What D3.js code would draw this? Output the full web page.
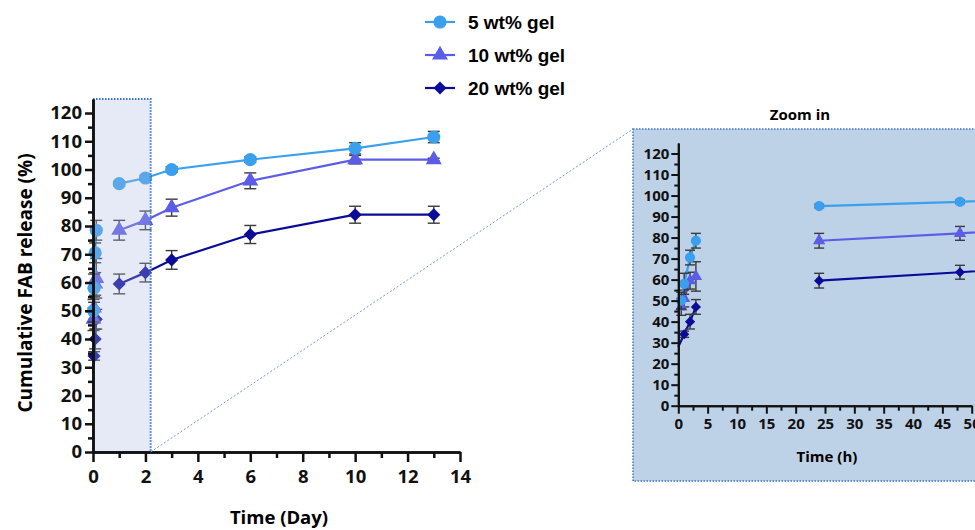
<!DOCTYPE html>
<html>
<head>
<meta charset="utf-8">
<script src="https://cdn.jsdelivr.net/npm/d3@7"></script>
<style>
  body { margin: 0; background: #fff; }
  svg { display: block; }
</style>
</head>
<body>
<div id="chart"></div>
<script>
// sampling times in hours (converted to days for the main plot)
const hours = [0.5, 1, 2, 3, 24, 48, 72, 144, 240, 312];
const hours20 = [0, 1, 2, 3, 24, 48, 72, 144, 240, 312];
// the first-day samples and the daily samples are plotted as two separate runs
const segment = [0, 0, 0, 0, 1, 1, 1, 1, 1, 1];

const seriesNames = ['5 wt% gel', '10 wt% gel', '20 wt% gel'];
const gel5 = [50, 58, 70.5, 78.5, 95, 97, 100, 103.5, 107.5, 111.5];
const gel5Sd = [4, 5, 3.5, 3.5, 0.8, 0.8, 1, 1, 2, 2];
const gel10 = [47, 51, 59.5, 61.5, 78.5, 82, 86.5, 96, 103.5, 103.5];
const gel10Sd = [4, 4, 4, 7, 3.5, 3.3, 3, 2.8, 1.5, 0.5];
const gel20 = [28, 34, 40, 47, 59.5, 63.5, 68, 77, 84, 84];
const gel20Sd = [0, 1.5, 3.5, 3.5, 3.5, 3.3, 3.3, 3.2, 3, 3];

const yTicks = [0, 10, 20, 30, 40, 50, 60, 70, 80, 90, 100, 110, 120];
const dayTicks = [0, 2, 4, 6, 8, 10, 12, 14];
const hourTicks = [0, 5, 10, 15, 20, 25, 30, 35, 40, 45, 50];

const colors = ['#3aa0ee', '#5c5ce6', '#0b0b98'];
const shapes = ['circle', 'triangle', 'diamond'];

const series = [
  { name: seriesNames[0], t: hours, v: gel5, sd: gel5Sd },
  { name: seriesNames[1], t: hours, v: gel10, sd: gel10Sd },
  { name: seriesNames[2], t: hours20, v: gel20, sd: gel20Sd }
].map((s, i) => ({
  ...s, color: colors[i], shape: shapes[i],
  pts: s.t.map((t, j) => ({ h: t, d: t / 24, v: s.v[j], sd: s.sd[j], seg: segment[j] }))
}));

const svg = d3.select('#chart').append('svg')
  .attr('width', 975).attr('height', 530);

const boldFont = "'Open Sans', sans-serif";

function marker(shape, scale) {
  if (shape === 'circle') return d3.symbol(d3.symbolCircle, 135 * scale)();
  if (shape === 'triangle') return d3.symbol(d3.symbolTriangle, 110 * scale)();
  return d3.symbol(d3.symbolSquare, 86 * scale)();
}

function drawSeries(g, xs, ys, key, sc, capW) {
  // draw the darkest series first so the light one sits on top
  series.slice().reverse().forEach(s => {
    const line = d3.line().x(d => xs(d[key])).y(d => ys(d.v));
    d3.groups(s.pts, d => d.seg).forEach(([, run]) => {
      g.append('path')
        .datum(run)
        .attr('d', line)
        .attr('fill', 'none')
        .attr('stroke', s.color)
        .attr('stroke-width', 2.2);
    });

    const eb = g.append('g').attr('stroke', '#3a3a3a').attr('stroke-width', 1.4);
    s.pts.filter(d => d.sd > 0).forEach(d => {
      const x = xs(d[key]);
      eb.append('line').attr('x1', x).attr('x2', x).attr('y1', ys(d.v - d.sd)).attr('y2', ys(d.v + d.sd));
      eb.append('line').attr('x1', x - capW).attr('x2', x + capW).attr('y1', ys(d.v - d.sd)).attr('y2', ys(d.v - d.sd));
      eb.append('line').attr('x1', x - capW).attr('x2', x + capW).attr('y1', ys(d.v + d.sd)).attr('y2', ys(d.v + d.sd));
    });

    g.selectAll(null)
      .data(s.pts.filter(d => d.h > 0))
      .join('path')
      .attr('d', marker(s.shape, sc))
      .attr('transform', d => 'translate(' + xs(d[key]) + ',' + ys(d.v) + ')' + (s.shape === 'diamond' ? ' rotate(45)' : ''))
      .attr('fill', s.color);
  });
}

function styleAxis(ax, fs, w) {
  ax.select('.domain').attr('stroke', '#111').attr('stroke-width', w);
  ax.selectAll('.tick line').attr('stroke', '#111').attr('stroke-width', w);
  ax.selectAll('text')
    .attr('fill', '#111')
    .style('font-family', boldFont)
    .style('font-weight', 700)
    .style('font-size', fs + 'px');
}

// ---------- main chart ----------
const x = d3.scaleLinear().domain([0, 14]).range([93, 460]);
const y = d3.scaleLinear().domain([0, 125]).range([452, 98.9]);

const main = svg.append('g');
drawSeries(main, x, y, 'd', 1, 6);

// shaded zoom region, drawn over the early points
const zoomEnd = 2.2;
main.append('rect')
  .attr('x', x(0)).attr('y', y(125))
  .attr('width', x(zoomEnd) - x(0)).attr('height', y(0) - y(125))
  .attr('fill', '#abb9e2').attr('fill-opacity', 0.3)
  .attr('stroke', '#3a74d6').attr('stroke-width', 2)
  .attr('stroke-dasharray', '1.5,1.5');

const yMinor = svg.append('g').attr('transform', 'translate(93,0)')
  .call(d3.axisLeft(y).tickValues(d3.range(5, 125, 10)).tickSize(5).tickSizeOuter(0).tickFormat(''));
styleAxis(yMinor, 18, 2.5);
const yAxis = svg.append('g').attr('transform', 'translate(93,0)')
  .call(d3.axisLeft(y).tickValues(yTicks).tickSize(8).tickSizeOuter(0).tickPadding(3));
styleAxis(yAxis, 18.5, 2.5);

const xMinor = svg.append('g').attr('transform', 'translate(0,452)')
  .call(d3.axisBottom(x).tickValues(d3.range(1, 14, 2)).tickSize(6).tickSizeOuter(0).tickFormat(''));
styleAxis(xMinor, 18, 2.5);
const xAxis = svg.append('g').attr('transform', 'translate(0,452)')
  .call(d3.axisBottom(x).tickValues(dayTicks).tickSize(10).tickSizeOuter(0).tickPadding(8));
styleAxis(xAxis, 18.5, 2.5);

svg.append('text')
  .attr('x', 279).attr('y', 524)
  .attr('text-anchor', 'middle')
  .style('font-family', boldFont).style('font-weight', 700).style('font-size', '18.5px')
  .text('Time (Day)');

svg.append('text')
  .attr('transform', 'translate(32,283) rotate(-90)')
  .attr('text-anchor', 'middle')
  .style('font-family', boldFont).style('font-weight', 700).style('font-size', '19px')
  .text('Cumulative FAB release (%)');

// ---------- legend ----------
const legend = svg.append('g');
series.forEach((s, i) => {
  const ly = 22 + i * 33;
  legend.append('line')
    .attr('x1', 425).attr('x2', 455).attr('y1', ly).attr('y2', ly)
    .attr('stroke', s.color).attr('stroke-width', 2.2);
  legend.append('path')
    .attr('d', marker(s.shape, 1))
    .attr('transform', 'translate(440,' + ly + ')' + (s.shape === 'diamond' ? ' rotate(45)' : ''))
    .attr('fill', s.color);
  legend.append('text')
    .attr('x', 468).attr('y', ly + 7)
    .style('font-family', "'Liberation Sans', Arial, sans-serif")
    .style('font-weight', 700).style('font-size', '19px')
    .text(s.name);
});

// ---------- inset ----------
const box = { x: 633, y: 129, w: 400, h: 352 };

svg.append('line')
  .attr('x1', x(zoomEnd)).attr('y1', y(0)).attr('x2', box.x).attr('y2', box.y)
  .attr('stroke', '#6f9be6').attr('stroke-width', 1)
  .attr('stroke-dasharray', '2,2');

svg.append('rect')
  .attr('x', box.x).attr('y', box.y).attr('width', box.w).attr('height', box.h)
  .attr('fill', '#bdd1e7')
  .attr('stroke', '#3a74d6').attr('stroke-width', 1.5)
  .attr('stroke-dasharray', '1.5,1.5');

svg.append('clipPath').attr('id', 'insetClip')
  .append('rect').attr('x', box.x).attr('y', box.y).attr('width', box.w).attr('height', box.h);

const ix = d3.scaleLinear().domain([0, 50]).range([678.3, 971.7]);
const iy = d3.scaleLinear().domain([0, 125]).range([405.7, 143]);

const inset = svg.append('g').attr('clip-path', 'url(#insetClip)');
drawSeries(inset, ix, iy, 'h', 0.6, 5);

const iyMinor = svg.append('g').attr('transform', 'translate(678.3,0)')
  .call(d3.axisLeft(iy).tickValues(d3.range(5, 125, 10)).tickSize(4).tickSizeOuter(0).tickFormat(''));
styleAxis(iyMinor, 15, 2);
const iyAxis = svg.append('g').attr('transform', 'translate(678.3,0)')
  .call(d3.axisLeft(iy).tickValues(yTicks).tickSize(7).tickSizeOuter(0).tickPadding(2));
styleAxis(iyAxis, 15, 2);

const ixMinor = svg.append('g').attr('transform', 'translate(0,405.7)')
  .call(d3.axisBottom(ix).tickValues(d3.range(2.5, 50, 5)).tickSize(5).tickSizeOuter(0).tickFormat(''));
styleAxis(ixMinor, 15, 2);
const ixAxis = svg.append('g').attr('transform', 'translate(0,405.7)')
  .call(d3.axisBottom(ix).tickValues(hourTicks).tickSize(8).tickSizeOuter(0).tickPadding(5));
styleAxis(ixAxis, 15, 2);

svg.append('text')
  .attr('x', 827).attr('y', 462)
  .attr('text-anchor', 'middle')
  .style('font-family', boldFont).style('font-weight', 700).style('font-size', '15px')
  .text('Time (h)');

svg.append('text')
  .attr('x', 800).attr('y', 120)
  .attr('text-anchor', 'middle')
  .style('font-family', boldFont).style('font-weight', 700).style('font-size', '15px')
  .text('Zoom in');
</script>
</body>
</html>
